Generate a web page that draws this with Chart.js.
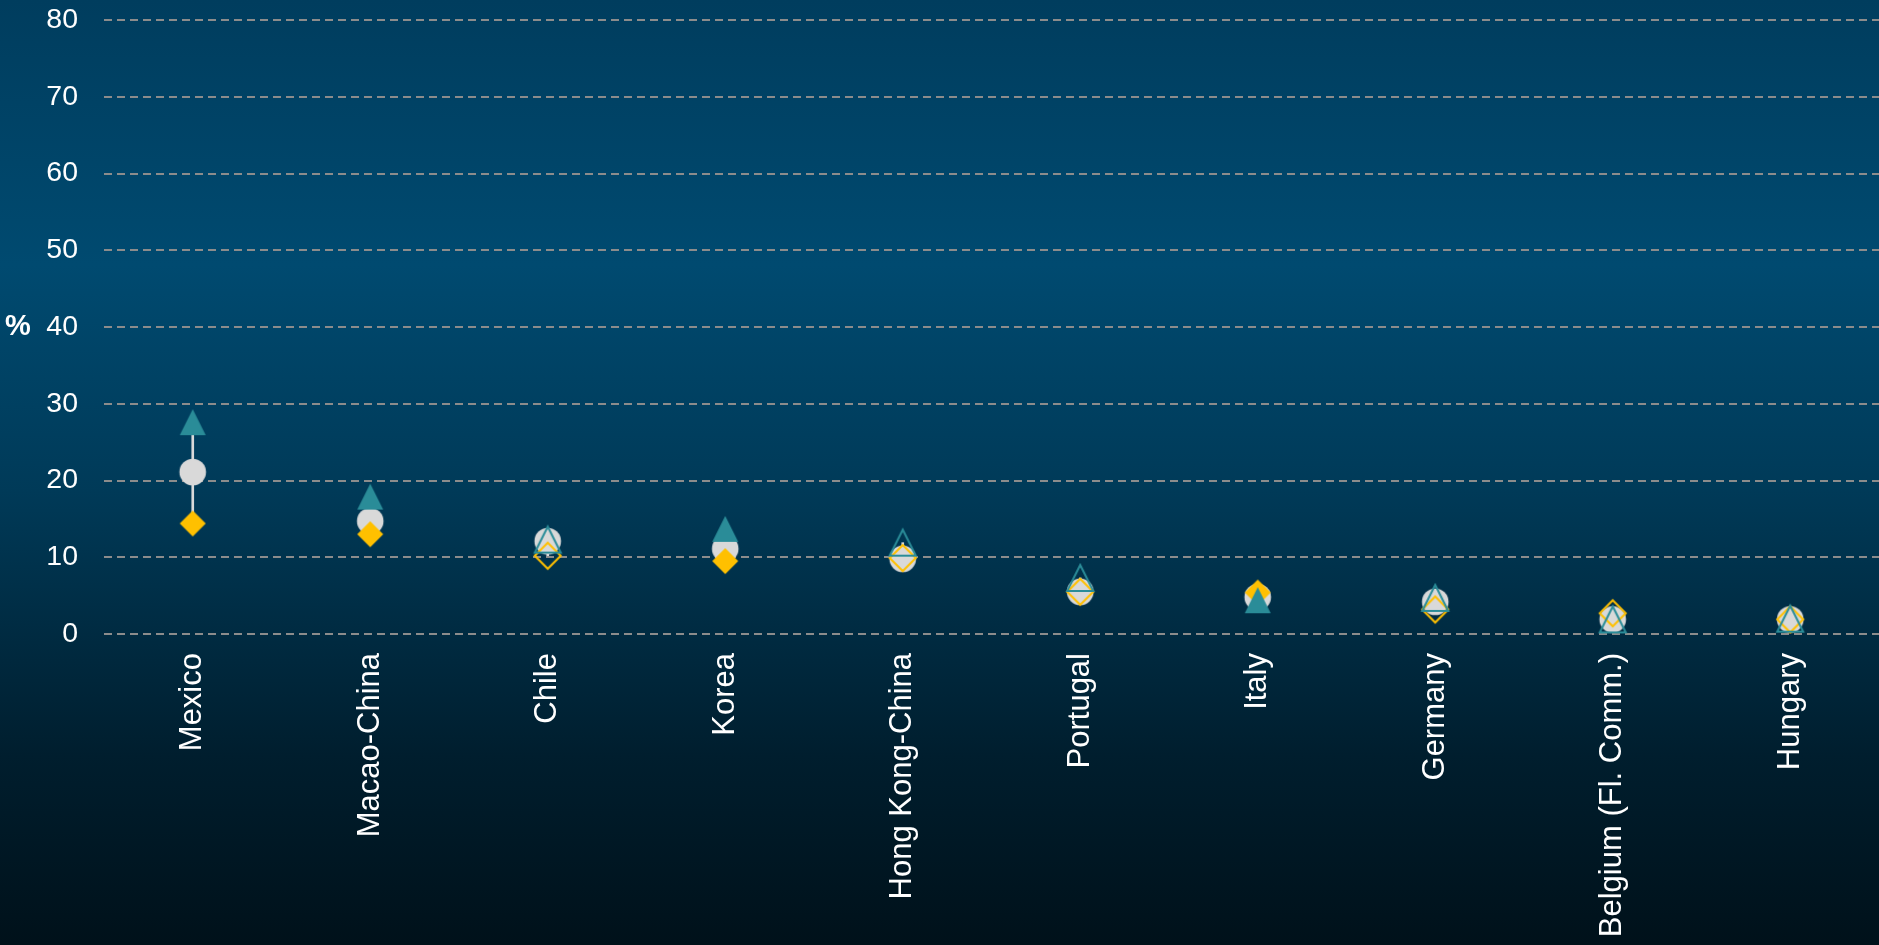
<!DOCTYPE html>
<html>
<head>
<meta charset="utf-8">
<script src="https://cdn.jsdelivr.net/npm/chart.js@4.4.1/dist/chart.umd.min.js"></script>
<style>
  html, body { margin: 0; padding: 0; }
  body {
    width: 1879px;
    height: 945px;
    overflow: hidden;
    background: linear-gradient(to bottom, #003d5e 0%, #004a70 28%, #003a58 52%, #001e2e 80%, #00111a 100%);
  }
  #caja { position: relative; width: 1879px; height: 945px; }
</style>
</head>
<body>
<div id="caja"><canvas id="grafico"></canvas></div>
<script>
// Countries in order
const paises = ['Mexico', 'Macao-China', 'Chile', 'Korea', 'Hong Kong-China',
                'Portugal', 'Italy', 'Germany', 'Belgium (Fl. Comm.)', 'Hungary'];

// Values (%) for each marker
const circulo   = [21.1, 14.7, 12.1, 11.1, 9.8, 5.5, 4.8, 4.2, 1.9, 1.9];
const triangulo = [27.6, 17.9, 12.3, 13.7, 11.9, 7.3, 4.4, 4.7, 1.9, 2.0];
const rombo     = [14.4, 13.0, 10.2, 9.5, 9.9, 5.5, 5.4, 3.2, 2.7, 1.9];

// Filled marker = significant, outline only = not
const trianguloLleno = [true, true, false, true, false, false, true, false, false, false];
const romboLleno     = [true, true, false, true, false, false, true, false, false, false];

const ticksY = [0, 10, 20, 30, 40, 50, 60, 70, 80];

const GRIS = '#d9d9d9';
const TEAL = '#2a8c98';
const AMARILLO = '#ffc000';

// Draw a marker on a small canvas so it can be used as pointStyle
function marcador(forma, color, lleno) {
    const c = document.createElement('canvas');
    c.width = 34;
    c.height = 34;
    const g = c.getContext('2d');
    const m = 17, s = 13;
    g.beginPath();
    if (forma === 'tri') {
        g.moveTo(m, m - s);
        g.lineTo(m + s, m + s);
        g.lineTo(m - s, m + s);
        g.closePath();
    } else if (forma === 'rombo') {
        g.moveTo(m, m - s);
        g.lineTo(m + s, m);
        g.lineTo(m, m + s);
        g.lineTo(m - s, m);
        g.closePath();
    } else {
        g.arc(m, m, 13.3, 0, Math.PI * 2);
    }
    if (lleno) {
        g.fillStyle = color;
        g.fill();
    } else {
        g.strokeStyle = color;
        g.lineWidth = 2;
        g.stroke();
    }
    return c;
}

const marcaCirculo = marcador('circulo', GRIS, true);
const marcasTri = trianguloLleno.map(f => marcador('tri', TEAL, f));
const marcasRombo = romboLleno.map(f => marcador('rombo', AMARILLO, f));

// Line from lowest to highest value in each country
const rango = paises.map((p, i) => {
    const v = [circulo[i], triangulo[i], rombo[i]];
    return [Math.min(...v), Math.max(...v)];
});

// "%" next to the y axis
const etiquetaPorcentaje = {
    id: 'etiquetaPorcentaje',
    afterDraw(chart) {
        const c = chart.ctx;
        const y = chart.scales.y.getPixelForValue(40);
        c.save();
        c.font = 'bold 29px "Liberation Sans", Arial, sans-serif';
        c.fillStyle = '#ffffff';
        c.textBaseline = 'middle';
        c.textAlign = 'left';
        c.fillText('%', 5, y);
        c.restore();
    }
};

window.onload = function () {

    const ctx = document.getElementById('grafico');

    new Chart(ctx, {
        type: 'bar',
        data: {
            labels: paises,
            datasets: [
                {
                    type: 'line',
                    data: triangulo,
                    showLine: false,
                    pointStyle: c => marcasTri[c.dataIndex],
                    pointRadius: 13,
                    order: 0
                },
                {
                    type: 'line',
                    data: rombo,
                    showLine: false,
                    pointStyle: c => marcasRombo[c.dataIndex],
                    pointRadius: 13,
                    order: 1
                },
                {
                    type: 'line',
                    data: circulo,
                    showLine: false,
                    pointStyle: marcaCirculo,
                    pointRadius: 13,
                    order: 2
                },
                {
                    type: 'bar',
                    data: rango,
                    backgroundColor: GRIS,
                    barThickness: 2,
                    borderWidth: 0,
                    order: 3
                }
            ]
        },
        options: {
            responsive: true,
            maintainAspectRatio: false,
            animation: false,
            layout: {
                autoPadding: false,
                padding: { top: 20, left: 0, right: 0, bottom: 0 }
            },
            plugins: {
                legend: { display: false },
                tooltip: { enabled: false }
            },
            scales: {
                x: {
                    offset: true,
                    grid: { display: false, drawTicks: false },
                    border: { display: false },
                    ticks: {
                        color: '#ffffff',
                        font: { family: '"Liberation Sans", Arial, sans-serif', size: 31 },
                        minRotation: 90,
                        maxRotation: 90,
                        autoSkip: false,
                        padding: 19
                    },
                    afterFit: s => { s.height = 311; }
                },
                y: {
                    min: 0,
                    max: 80,
                    afterBuildTicks: s => { s.ticks = ticksY.map(v => ({ value: v })); },
                    grid: { color: '#8c8c8c', lineWidth: 2, drawTicks: false },
                    border: { display: false, dash: [8, 5] },
                    ticks: {
                        color: '#ffffff',
                        font: { family: '"Liberation Sans", Arial, sans-serif', size: 28.5 },
                        padding: 26
                    },
                    afterFit: s => {
                        s.width = 104;
                        s.paddingTop = 0;
                        s.paddingBottom = 0;
                    }
                }
            }
        },
        plugins: [etiquetaPorcentaje]
    });
};
</script>
</body>
</html>
